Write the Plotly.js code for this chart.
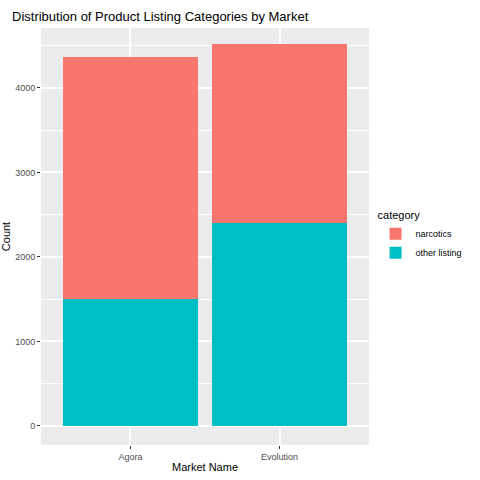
<!DOCTYPE html>
<html><head><script src="https://cdn.plot.ly/plotly-3.0.1.min.js"></script></head>
<body style="margin:0">
<div id="c" style="width:480px;height:480px"></div>
<script>
const markets = ["Agora", "Evolution"];
const otherListing = [1500, 2400];
const narcotics = [2867, 2120];

const traces = [
  {type:"bar", name:"other listing", x:markets, y:otherListing, marker:{color:"#00BFC4"}, width:0.9},
  {type:"bar", name:"narcotics", x:markets, y:narcotics, marker:{color:"#F8766D"}, width:0.9}
];
const layout = {
  barmode:"stack", width:480, height:480,
  margin:{l:41, r:100, t:28, b:35},
  paper_bgcolor:"#fff", plot_bgcolor:"#EBEBEB",
  font:{family:"Liberation Sans, Arial", color:"#4D4D4D", size:9},
  title:{text:"Distribution of Product Listing Categories by Market", x:0.025, xanchor:"left", y:0.975, font:{size:13, color:"#000"}},
  xaxis:{range:[-0.6,1.6], domain:[0,1.0], showgrid:true, gridcolor:"#fff", gridwidth:1.5, ticks:"outside", ticklen:3, tickcolor:"#333", zeroline:false,
    title:{text:"Market Name", font:{size:11, color:"#000"}, standoff:2}},
  yaxis:{range:[-225,4710], dtick:1000, showgrid:true, gridcolor:"#fff", gridwidth:1.5, ticks:"outside", ticklen:3, tickcolor:"#333", zeroline:false,
    minor:{dtick:500, showgrid:true, gridcolor:"#fff", gridwidth:0.6},
    title:{text:"Count", font:{size:11, color:"#000"}, standoff:4}},
  legend:{traceorder:"reversed", x:1.02, y:0.5, yanchor:"middle", font:{size:9, color:"#000"},
    title:{text:"category", font:{size:11, color:"#000"}}},
  bargap:0.1
};
layout.margin.r = 100;
layout.xaxis.domain = [0, 1.0];
layout.margin.r = 85;
Plotly.newPlot("c", traces, layout, {displayModeBar:false});
</script></body></html>
